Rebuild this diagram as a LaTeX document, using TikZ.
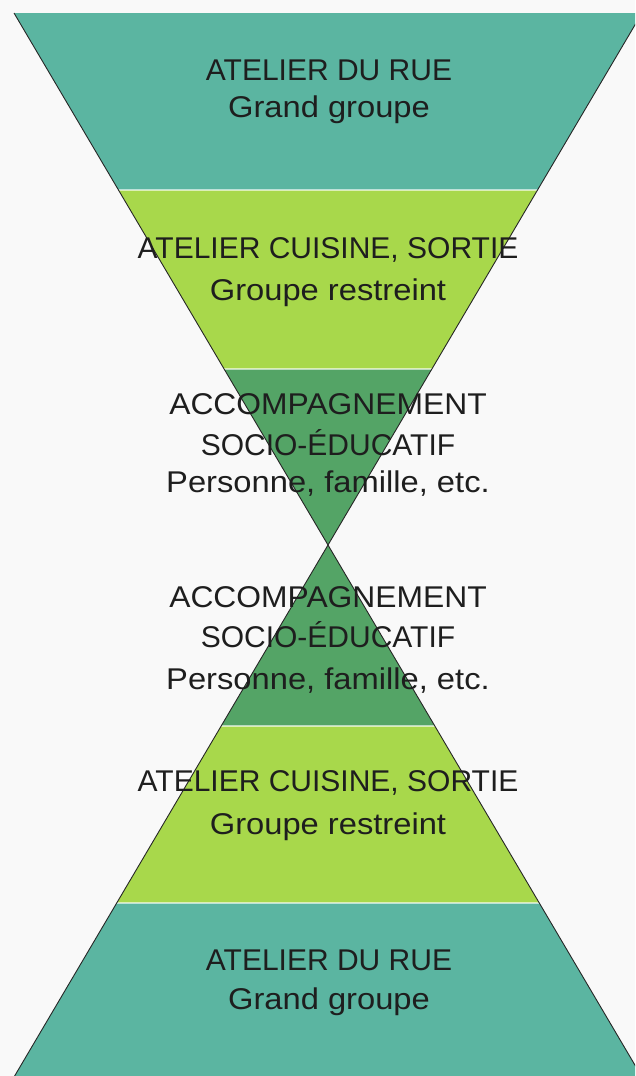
\documentclass[tikz,border=0pt]{standalone}
\usepackage{fontspec}
\setmainfont{Liberation Sans}
\newfontfamily\widefont{Liberation Sans}[FakeStretch=1.09]
\newfontfamily\midfont{Liberation Sans}[FakeStretch=1.06]
\definecolor{bg}{HTML}{F9F9F9}
\definecolor{teal}{HTML}{5BB5A1}
\definecolor{lime}{HTML}{A8D84B}
\definecolor{grn}{HTML}{54A466}
\definecolor{txt}{HTML}{1E1E1E}
\tikzset{
  sep/.style={draw=white, opacity=0.6, line width=1.5pt},
  edge/.style={draw=black!85, line width=0.9pt},
  lbl/.style={anchor=base, inner sep=0pt, text=txt, font=\fontsize{30}{36}\selectfont},
  lblw/.style={lbl, font=\widefont\fontsize{30}{36}\selectfont},
  lblm/.style={lbl, font=\midfont\fontsize{30}{36}\selectfont},
}
\begin{document}
\begin{tikzpicture}[x=1pt,y=-1pt]
\useasboundingbox (0,0) rectangle (635,1076);
\fill[bg] (0,0) rectangle (635,1076);
\clip (0,0) rectangle (635,1076);
% key coordinates
\coordinate (tl) at (14,13);      \coordinate (tr) at (642,13);
\coordinate (a1l) at (118.5,190); \coordinate (a1r) at (537.5,190);
\coordinate (a2l) at (224.1,369); \coordinate (a2r) at (431.9,369);
\coordinate (apex) at (328,545);
\coordinate (b2l) at (221.2,726); \coordinate (b2r) at (434.8,726);
\coordinate (b1l) at (116.7,903); \coordinate (b1r) at (539.3,903);
\coordinate (bl) at (14.6,1076);  \coordinate (br) at (641.4,1076);
% bands
\fill[teal] (tl) -- (tr) -- (a1r) -- (a1l) -- cycle;
\fill[lime] (a1l) -- (a1r) -- (a2r) -- (a2l) -- cycle;
\fill[grn]  (a2l) -- (a2r) -- (apex) -- cycle;
\fill[grn]  (apex) -- (b2r) -- (b2l) -- cycle;
\fill[lime] (b2l) -- (b2r) -- (b1r) -- (b1l) -- cycle;
\fill[teal] (b1l) -- (b1r) -- (br) -- (bl) -- cycle;
% separators
\draw[sep] (a1l) -- (a1r);
\draw[sep] (a2l) -- (a2r);
\draw[sep] (b2l) -- (b2r);
\draw[sep] (b1l) -- (b1r);
% slanted edges
\draw[edge] (tl) -- (apex) -- (br);
\draw[edge] (tr) -- (apex) -- (bl);
% labels
\node[lbl]  (t1a) at (329,80) {ATELIER DU RUE};
\node[lblw] (t1b) at (329,117) {Grand groupe};
\node[lbl]  (t2a) at (328,258) {ATELIER CUISINE, SORTIE};
\node[lblw] (t2b) at (328,300) {Groupe restreint};
\node[lblm] (t3a) at (328,414) {ACCOMPAGNEMENT};
\node[lbl]  (t3b) at (328,455) {SOCIO-ÉDUCATIF};
\node[lblw] (t3c) at (328,492) {Personne, famille, etc.};
\node[lblm] (b3a) at (328,607) {ACCOMPAGNEMENT};
\node[lbl]  (b3b) at (328,647) {SOCIO-ÉDUCATIF};
\node[lblw] (b3c) at (328,689) {Personne, famille, etc.};
\node[lbl]  (b2a) at (328,791) {ATELIER CUISINE, SORTIE};
\node[lblw] (b2b) at (328,834) {Groupe restreint};
\node[lbl]  (b1a) at (329,970) {ATELIER DU RUE};
\node[lblw] (b1b) at (329,1009) {Grand groupe};
\end{tikzpicture}
\end{document}
